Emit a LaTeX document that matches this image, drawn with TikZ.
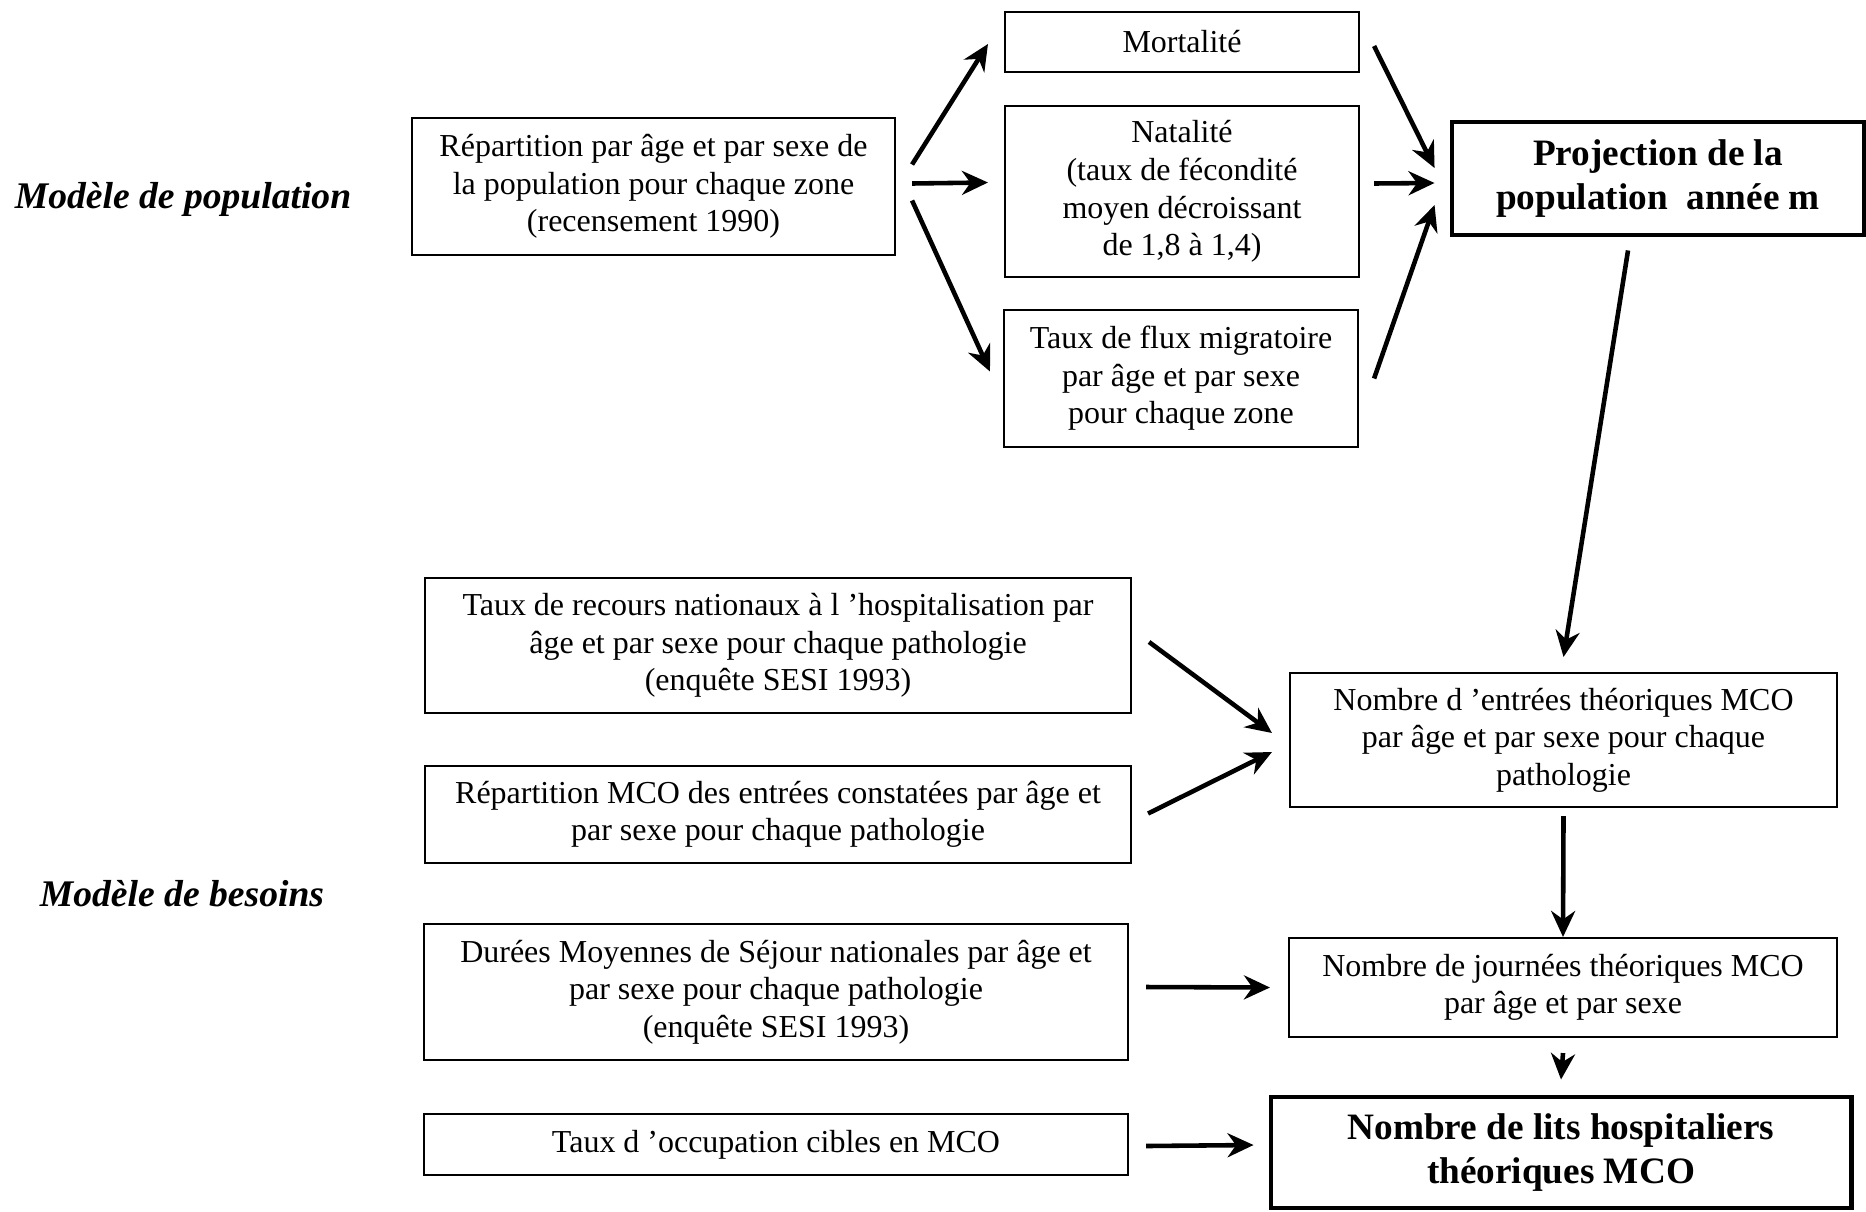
\documentclass[tikz,border=0pt]{standalone}
\usepackage{fontspec}
\setmainfont{Liberation Serif}
\usepackage{tikz}
\usetikzlibrary{arrows.meta, calc}
\tikzstyle{box} = [draw, line width=0.6pt, align=center, inner sep=0pt, font=\fontsize{9.1}{10.7}\selectfont]
\tikzstyle{bigbox} = [draw, line width=1.4pt, align=center, inner sep=0pt, font=\fontsize{10.6}{12.7}\selectfont\bfseries]
\tikzstyle{model} = [font=\fontsize{10.7}{12.8}\selectfont\bfseries\itshape]
\tikzstyle{arrow} = [line width=1.3pt, -{Stealth[length=2.6mm, width=2.4mm]}]

\begin{document}
\begin{tikzpicture}
            \useasboundingbox (0,0) rectangle (186.6mm, 121.1mm);

            \node [model] at (18.3mm, 101.2mm) (popmodel) {Modèle de population};
            \node [model] at (18.2mm, 31.7mm) (besmodel) {Modèle de besoins};

            % modele de population
            \node [box, minimum width=48.3mm, minimum height=13.7mm] at (65.35mm, 102.45mm) (repart) {Répartition par âge et par sexe de\\la population pour chaque zone\\(recensement 1990)};
            \node [box, minimum width=35.4mm, minimum height=6mm] at (118.2mm, 116.9mm) (mort) {Mortalité};
            \node [box, minimum width=35.4mm, minimum height=17.1mm] at (118.2mm, 101.95mm) (natal) {Natalité\\(taux de fécondité\\moyen décroissant\\de 1,8 à 1,4)};
            \node [box, minimum width=35.4mm, minimum height=13.7mm] at (118.1mm, 83.25mm) (flux) {Taux de flux migratoire\\par âge et par sexe\\pour chaque zone};
            \node [bigbox, minimum width=41.2mm, minimum height=11.3mm] at (165.8mm, 103.25mm) (proj) {Projection de la\\population\ \ année m};

            % modele de besoins
            \node [box, minimum width=70.6mm, minimum height=13.5mm] at (77.8mm, 56.55mm) (recours) {Taux de recours nationaux à l ’hospitalisation par\\âge et par sexe pour chaque pathologie\\(enquête SESI 1993)};
            \node [box, minimum width=70.6mm, minimum height=9.7mm] at (77.8mm, 39.65mm) (repmco) {Répartition MCO des entrées constatées par âge et\\par sexe pour chaque pathologie};
            \node [box, minimum width=54.7mm, minimum height=13.4mm] at (156.35mm, 47.1mm) (entrees) {Nombre d ’entrées théoriques MCO\\par âge et par sexe pour chaque\\pathologie};
            \node [box, minimum width=70.4mm, minimum height=13.6mm] at (77.6mm, 21.9mm) (durees) {Durées Moyennes de Séjour nationales par âge et\\par sexe pour chaque pathologie\\(enquête SESI 1993)};
            \node [box, minimum width=54.8mm, minimum height=9.9mm] at (156.3mm, 22.35mm) (journees) {Nombre de journées théoriques MCO\\par âge et par sexe};
            \node [box, minimum width=70.4mm, minimum height=6.1mm] at (77.6mm, 6.65mm) (occup) {Taux d ’occupation cibles en MCO};
            \node [bigbox, minimum width=58mm, minimum height=11.1mm] at (156.1mm, 5.85mm) (lits) {Nombre de lits hospitaliers\\théoriques MCO};

            \draw [arrow] ([shift={(1.6mm,2.2mm)}]repart.east) -- ([shift={(-1.6mm,-0.2mm)}]mort.west);
            \draw [arrow] ([shift={(1.6mm,0.3mm)}]repart.east) -- ([shift={(-1.6mm,0.9mm)}]natal.west);
            \draw [arrow] ([shift={(1.6mm,-1.4mm)}]repart.east) -- ([shift={(-1.3mm,0.7mm)}]flux.west);

            \draw [arrow] ([shift={(1.4mm,-0.4mm)}]mort.east) -- ([shift={(-1.5mm,1.05mm)}]proj.west);
            \draw [arrow] ([shift={(1.4mm,0.8mm)}]natal.east) -- ([shift={(-1.5mm,-0.45mm)}]proj.west);
            \draw [arrow] ([shift={(1.5mm,0mm)}]flux.east) -- ([shift={(-1.5mm,-2.65mm)}]proj.west);

            \draw [arrow] ([shift={(-3mm,-1.3mm)}]proj.south) -- ([yshift=1.5mm]entrees.north);
            \draw [arrow] ([shift={(1.7mm,0.35mm)}]recours.east) -- ([shift={(-1.7mm,0.7mm)}]entrees.west);
            \draw [arrow] ([shift={(1.6mm,0.1mm)}]repmco.east) -- ([shift={(-1.7mm,-1.2mm)}]entrees.west);
            \draw [arrow] ([yshift=-0.8mm]entrees.south) -- (journees.north);
            \draw [arrow] ([shift={(1.7mm,0.5mm)}]durees.east) -- ([xshift=-1.8mm]journees.west);
            \draw [arrow] ([yshift=-1.5mm]journees.south) -- ([yshift=1.5mm]lits.north);
            \draw [arrow] ([shift={(1.7mm,-0.15mm)}]occup.east) -- ([shift={(-1.5mm,0.75mm)}]lits.west);
\end{tikzpicture}
\end{document}
